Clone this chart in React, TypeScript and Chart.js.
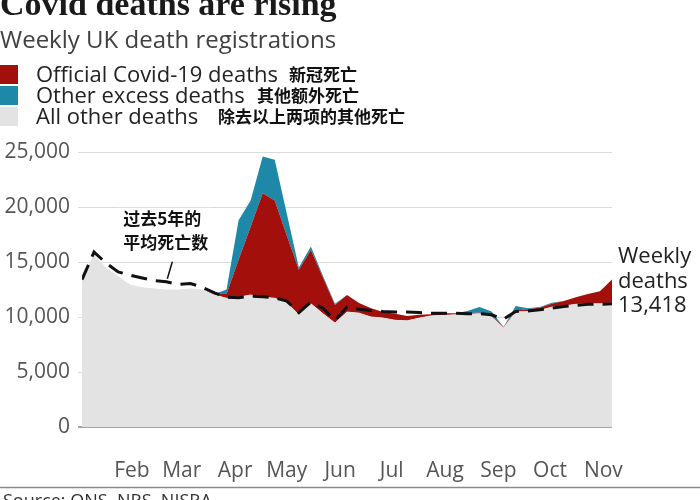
import React, { useEffect, useRef } from 'react';
import { Chart, registerables } from 'chart.js';

Chart.register(...registerables);

// Week-ending dates of 2020, as day of the year (week 1 ends 3 Jan, week 45 ends 6 Nov)
const weekEndingDay = [
  3, 10, 17, 24, 31, 38, 45, 52, 59, 66,
  73, 80, 87, 94, 101, 108, 115, 122, 129, 136,
  143, 150, 157, 164, 171, 178, 185, 192, 199, 206,
  213, 220, 227, 234, 241, 248, 255, 262, 269, 276,
  283, 290, 297, 304, 311,
];

// All other deaths (grey)
const allOtherDeaths = [
  13300, 15600, 14450, 13650, 12900, 12650, 12550, 12450, 12450, 12550,
  12450, 12000, 11700, 11800, 12000, 11800, 11700, 11300, 10200, 11200,
  10300, 9450, 10450, 10350, 10000, 9900, 9700, 9650, 9900, 10100,
  10150, 10200, 10250, 10300, 10000, 9000, 10450, 10500, 10600, 10900,
  11000, 11150, 11200, 11200, 11268,
];

// Official Covid-19 deaths (red)
const covidDeaths = [
  0, 0, 0, 0, 0, 0, 0, 0, 0, 0,
  0, 100, 400, 3400, 6200, 9450, 8900, 6100, 4100, 4900,
  3300, 1650, 1550, 920, 800, 550, 600, 450, 300, 150,
  200, 150, 100, 100, 100, 100, 150, 200, 250, 300,
  450, 650, 900, 1150, 2150,
];

// Other excess deaths (teal)
const otherExcessDeaths = [
  0, 0, 0, 0, 0, 0, 0, 0, 0, 0,
  0, 0, 400, 3600, 2400, 3350, 3700, 2000, 200, 300,
  150, 100, 0, 0, 0, 0, 0, 0, 0, 0,
  0, 0, 200, 500, 400, 0, 400, 100, 50, 100,
  0, 0, 0, 0, 0,
];

// Five-year average (dashed line)
const averageDeaths = [
  13400, 15900, 14900, 14100, 13800, 13550, 13300, 13200, 12950, 13050,
  12700, 12200, 11800, 11750, 11900, 11850, 11750, 11450, 10400, 11350,
  10800, 9700, 10900, 10700, 10600, 10500, 10450, 10450, 10400, 10350,
  10350, 10350, 10300, 10300, 10200, 9800, 10500, 10550, 10650, 10800,
  10950, 11050, 11150, 11150, 11200,
];

// X-axis tick labels at the first day of each month
const monthLabels = ['Feb', 'Mar', 'Apr', 'May', 'Jun', 'Jul', 'Aug', 'Sep', 'Oct', 'Nov'];
const monthStartDay = [32, 61, 92, 122, 153, 183, 214, 245, 275, 306];

const yTicks = [0, 5000, 10000, 15000, 20000, 25000];

const legendItems = [
  { en: 'Official Covid-19 deaths', zh: '新冠死亡' },
  { en: 'Other excess deaths', zh: '其他额外死亡' },
  { en: 'All other deaths', zh: '除去以上两项的其他死亡' },
];

const title = 'Covid deaths are rising';
const subtitle = 'Weekly UK death registrations';
const averageNote = ['过去5年的', '平均死亡数'];
const source = 'Source: ONS, NRS, NISRA';

const RED = '#a30f0a';
const TEAL = '#1d88a8';
const GREY = '#e3e3e3';
const SANS = '"Open Sans", "Noto Sans", sans-serif';
const CJK = '"Noto Sans CJK SC", sans-serif';

const noteWeekIndex = 7;

const decorPlugin = {
  id: 'decor',
  beforeDatasetsDraw(chart: any) {
    const ctx = chart.ctx;
    const p = chart.getDatasetMeta(3).data[noteWeekIndex];
    if (!p) return;
    ctx.save();
    ctx.fillStyle = '#ffffff';
    ctx.fillRect(p.x - 48, p.y - 74, 94, 48);
    ctx.restore();
  },
  afterDraw(chart: any) {
    const ctx = chart.ctx;
    ctx.save();
    ctx.textBaseline = 'alphabetic';
    ctx.textAlign = 'left';

    // Title and subtitle
    ctx.fillStyle = '#1a1a1a';
    ctx.font = 'bold 34px "Liberation Serif", serif';
    ctx.fillText(title, 0, 15);
    ctx.fillStyle = '#404040';
    ctx.font = `24px ${SANS}`;
    ctx.fillText(subtitle, 0, 48);

    // Legend
    const colors = [RED, TEAL, GREY];
    const zhX = [289, 257, 218];
    legendItems.forEach((item, i) => {
      const base = 82 + i * 21;
      ctx.fillStyle = colors[i];
      ctx.fillRect(0, base - 17, 18, 19);
      ctx.fillStyle = '#222';
      ctx.font = `22px ${SANS}`;
      ctx.fillText(item.en, 36, base);
      ctx.fillStyle = '#111';
      ctx.font = `bold 17px ${CJK}`;
      ctx.fillText(item.zh, zhX[i], base - 1);
    });

    // Five-year average note with leader line
    const p = chart.getDatasetMeta(3).data[noteWeekIndex];
    if (p) {
      ctx.fillStyle = '#111';
      ctx.font = `bold 17px ${CJK}`;
      ctx.fillText(averageNote[0], p.x - 43, p.y - 57);
      ctx.fillText(averageNote[1], p.x - 43, p.y - 33);
      ctx.strokeStyle = '#111';
      ctx.lineWidth = 1.5;
      ctx.beginPath();
      ctx.moveTo(p.x + 6, p.y - 20);
      ctx.lineTo(p.x + 1, p.y - 3);
      ctx.stroke();
    }

    // End label for the latest weekly total
    const topMeta = chart.getDatasetMeta(2);
    const last = topMeta.data[topMeta.data.length - 1];
    const n = weekEndingDay.length - 1;
    const total = allOtherDeaths[n] + covidDeaths[n] + otherExcessDeaths[n];
    if (last) {
      ctx.fillStyle = '#222';
      ctx.font = `22px ${SANS}`;
      ctx.fillText('Weekly', last.x + 6, last.y - 16);
      ctx.fillText('deaths', last.x + 6, last.y + 9);
      ctx.fillText(total.toLocaleString('en-US'), last.x + 6, last.y + 33);
    }

    // Footer
    ctx.strokeStyle = '#8a8a8a';
    ctx.lineWidth = 1.5;
    ctx.beginPath();
    ctx.moveTo(0, 487.5);
    ctx.lineTo(700, 487.5);
    ctx.stroke();
    ctx.fillStyle = '#333';
    ctx.font = `18px ${SANS}`;
    ctx.fillText(source, 3, 507);
    ctx.restore();
  },
};

export default function App() {
  const canvasRef = useRef<HTMLCanvasElement | null>(null);

  useEffect(() => {
    const canvas = canvasRef.current;
    if (!canvas) return;
    const toXY = (arr: number[]) => weekEndingDay.map((d, i) => ({ x: d, y: arr[i] }));
    const chart = new Chart(canvas, {
      type: 'line',
      data: {
        datasets: [
          {
            label: 'All other deaths',
            data: toXY(allOtherDeaths),
            stack: 'deaths',
            fill: 'origin',
            backgroundColor: GREY,
            borderColor: GREY,
            borderWidth: 1,
            pointRadius: 0,
            tension: 0,
          },
          {
            label: 'Official Covid-19 deaths',
            data: toXY(covidDeaths),
            stack: 'deaths',
            fill: '-1',
            backgroundColor: RED,
            borderWidth: 0,
            pointRadius: 0,
            tension: 0,
          },
          {
            label: 'Other excess deaths',
            data: toXY(otherExcessDeaths),
            stack: 'deaths',
            fill: '-1',
            backgroundColor: TEAL,
            borderWidth: 0,
            pointRadius: 0,
            tension: 0,
          },
          {
            label: 'Five-year average',
            data: toXY(averageDeaths),
            stack: 'average',
            order: -1,
            fill: false,
            borderColor: '#111',
            borderWidth: 3,
            borderDash: [16, 9],
            pointRadius: 0,
            tension: 0,
          },
        ] as any,
      },
      options: {
        responsive: false,
        animation: false,
        layout: { padding: { top: 152, right: 88, left: 0, bottom: 0 } },
        plugins: {
          legend: { display: false },
          tooltip: { enabled: false },
          title: { display: false },
        },
        scales: {
          x: {
            type: 'linear',
            min: weekEndingDay[0],
            max: weekEndingDay[weekEndingDay.length - 1],
            grid: { display: false },
            border: { display: false },
            afterBuildTicks: (scale: any) => {
              scale.ticks = monthStartDay.map((v) => ({ value: v }));
            },
            afterFit: (scale: any) => {
              scale.height = 73;
            },
            ticks: {
              autoSkip: false,
              maxRotation: 0,
              padding: 23,
              color: '#555',
              font: { family: SANS, size: 21 },
              callback: (v: any) => {
                const i = monthStartDay.indexOf(Number(v));
                return i >= 0 ? monthLabels[i] : '';
              },
            },
          },
          y: {
            stacked: true,
            min: yTicks[0],
            max: yTicks[yTicks.length - 1],
            border: { display: false },
            afterBuildTicks: (scale: any) => {
              scale.ticks = yTicks.map((v) => ({ value: v }));
            },
            afterFit: (scale: any) => {
              scale.width = 82;
            },
            grid: {
              color: (c: any) => (c.tick && c.tick.value === 0 ? '#a3a3a3' : '#dadada'),
              lineWidth: (c: any) => (c.tick && c.tick.value === 0 ? 2 : 1),
              tickLength: 4,
              drawTicks: true,
            },
            ticks: {
              padding: 8,
              color: '#555',
              font: { family: SANS, size: 21 },
              callback: (v: any) => Number(v).toLocaleString('en-US'),
            },
          },
        },
      } as any,
      plugins: [decorPlugin],
    });
    return () => chart.destroy();
  }, []);

  return (
    <div style={{ position: 'fixed', left: 0, top: 0, width: 700, height: 500, background: '#fff', overflow: 'hidden' }}>
      <canvas ref={canvasRef} width={700} height={500} style={{ width: 700, height: 500, display: 'block' }} />
    </div>
  );
}
